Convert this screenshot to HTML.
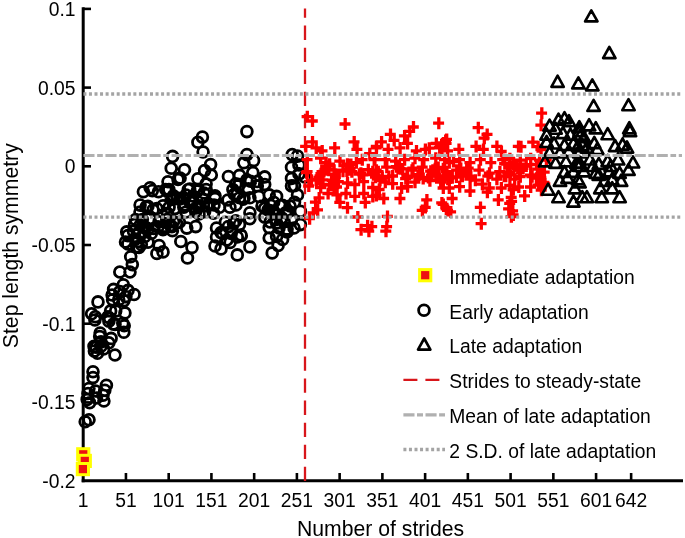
<!DOCTYPE html>
<html><head><meta charset="utf-8"><style>html,body{margin:0;padding:0;background:#fff;width:685px;height:538px;overflow:hidden}svg{display:block;will-change:transform}text{font-family:"Liberation Sans",sans-serif}</style></head>
<body><svg width="685" height="538" viewBox="0 0 685 538" font-family="Liberation Sans, sans-serif" font-size="19.3" fill="#000"><line x1="83.2" y1="7.3" x2="83.2" y2="482.2" stroke="#000" stroke-width="3"/>
<line x1="81.7" y1="480.7" x2="683" y2="480.7" stroke="#000" stroke-width="3"/>
<line x1="83" y1="8.90" x2="91" y2="8.90" stroke="#000" stroke-width="2.6"/>
<text x="75.5" y="15.80" text-anchor="end">0.1</text>
<line x1="83" y1="87.60" x2="91" y2="87.60" stroke="#000" stroke-width="2.6"/>
<text x="75.5" y="94.50" text-anchor="end">0.05</text>
<line x1="83" y1="166.30" x2="91" y2="166.30" stroke="#000" stroke-width="2.6"/>
<text x="75.5" y="173.20" text-anchor="end">0</text>
<line x1="83" y1="245.00" x2="91" y2="245.00" stroke="#000" stroke-width="2.6"/>
<text x="75.5" y="251.90" text-anchor="end">-0.05</text>
<line x1="83" y1="323.70" x2="91" y2="323.70" stroke="#000" stroke-width="2.6"/>
<text x="75.5" y="330.60" text-anchor="end">-0.1</text>
<line x1="83" y1="402.40" x2="91" y2="402.40" stroke="#000" stroke-width="2.6"/>
<text x="75.5" y="409.30" text-anchor="end">-0.15</text>
<text x="75.5" y="488.00" text-anchor="end">-0.2</text>
<text x="83.20" y="507" text-anchor="middle">1</text>
<line x1="125.94" y1="480" x2="125.94" y2="473" stroke="#000" stroke-width="2.6"/>
<text x="125.94" y="507" text-anchor="middle">51</text>
<line x1="168.68" y1="480" x2="168.68" y2="473" stroke="#000" stroke-width="2.6"/>
<text x="168.68" y="507" text-anchor="middle">101</text>
<line x1="211.42" y1="480" x2="211.42" y2="473" stroke="#000" stroke-width="2.6"/>
<text x="211.42" y="507" text-anchor="middle">151</text>
<line x1="254.16" y1="480" x2="254.16" y2="473" stroke="#000" stroke-width="2.6"/>
<text x="254.16" y="507" text-anchor="middle">201</text>
<line x1="296.90" y1="480" x2="296.90" y2="473" stroke="#000" stroke-width="2.6"/>
<text x="296.90" y="507" text-anchor="middle">251</text>
<line x1="339.64" y1="480" x2="339.64" y2="473" stroke="#000" stroke-width="2.6"/>
<text x="339.64" y="507" text-anchor="middle">301</text>
<line x1="382.38" y1="480" x2="382.38" y2="473" stroke="#000" stroke-width="2.6"/>
<text x="382.38" y="507" text-anchor="middle">351</text>
<line x1="425.12" y1="480" x2="425.12" y2="473" stroke="#000" stroke-width="2.6"/>
<text x="425.12" y="507" text-anchor="middle">401</text>
<line x1="467.86" y1="480" x2="467.86" y2="473" stroke="#000" stroke-width="2.6"/>
<text x="467.86" y="507" text-anchor="middle">451</text>
<line x1="510.60" y1="480" x2="510.60" y2="473" stroke="#000" stroke-width="2.6"/>
<text x="510.60" y="507" text-anchor="middle">501</text>
<line x1="553.34" y1="480" x2="553.34" y2="473" stroke="#000" stroke-width="2.6"/>
<text x="553.34" y="507" text-anchor="middle">551</text>
<line x1="596.08" y1="480" x2="596.08" y2="473" stroke="#000" stroke-width="2.6"/>
<text x="596.08" y="507" text-anchor="middle">601</text>
<line x1="631.13" y1="480" x2="631.13" y2="473" stroke="#000" stroke-width="2.6"/>
<text x="631.13" y="507" text-anchor="middle">642</text>
<text x="380.6" y="535.5" text-anchor="middle" font-size="21.2">Number of strides</text>
<text transform="translate(18.2,245.7) rotate(-90)" text-anchor="middle" font-size="21.2">Step length symmetry</text>
<rect x="77.65" y="448.70" width="11.2" height="11.2" fill="#ee1111" stroke="#ffff00" stroke-width="3"/>
<rect x="79.20" y="455.30" width="11.2" height="11.2" fill="#ee1111" stroke="#ffff00" stroke-width="3"/>
<rect x="77.30" y="463.50" width="11.2" height="11.2" fill="#ee1111" stroke="#ffff00" stroke-width="3"/>
<path d="M79.8,421.8a5.4,5.4 0 1,0 10.8,0a5.4,5.4 0 1,0 -10.8,0M83.6,419.8a5.4,5.4 0 1,0 10.8,0a5.4,5.4 0 1,0 -10.8,0M87.6,371.8a5.4,5.4 0 1,0 10.8,0a5.4,5.4 0 1,0 -10.8,0M87.6,377.6a5.4,5.4 0 1,0 10.8,0a5.4,5.4 0 1,0 -10.8,0M83.5,388.5a5.4,5.4 0 1,0 10.8,0a5.4,5.4 0 1,0 -10.8,0M82.6,393.5a5.4,5.4 0 1,0 10.8,0a5.4,5.4 0 1,0 -10.8,0M81.8,399.4a5.4,5.4 0 1,0 10.8,0a5.4,5.4 0 1,0 -10.8,0M84.3,402.7a5.4,5.4 0 1,0 10.8,0a5.4,5.4 0 1,0 -10.8,0M101.0,385.2a5.4,5.4 0 1,0 10.8,0a5.4,5.4 0 1,0 -10.8,0M99.4,390.2a5.4,5.4 0 1,0 10.8,0a5.4,5.4 0 1,0 -10.8,0M97.6,395.2a5.4,5.4 0 1,0 10.8,0a5.4,5.4 0 1,0 -10.8,0M98.5,401.0a5.4,5.4 0 1,0 10.8,0a5.4,5.4 0 1,0 -10.8,0M94.7,333.1a5.4,5.4 0 1,0 10.8,0a5.4,5.4 0 1,0 -10.8,0M94.3,336.6a5.4,5.4 0 1,0 10.8,0a5.4,5.4 0 1,0 -10.8,0M105.7,338.4a5.4,5.4 0 1,0 10.8,0a5.4,5.4 0 1,0 -10.8,0M103.5,342.8a5.4,5.4 0 1,0 10.8,0a5.4,5.4 0 1,0 -10.8,0M88.6,346.3a5.4,5.4 0 1,0 10.8,0a5.4,5.4 0 1,0 -10.8,0M89.0,351.1a5.4,5.4 0 1,0 10.8,0a5.4,5.4 0 1,0 -10.8,0M92.1,353.3a5.4,5.4 0 1,0 10.8,0a5.4,5.4 0 1,0 -10.8,0M95.6,346.3a5.4,5.4 0 1,0 10.8,0a5.4,5.4 0 1,0 -10.8,0M98.2,348.9a5.4,5.4 0 1,0 10.8,0a5.4,5.4 0 1,0 -10.8,0M95.6,341.9a5.4,5.4 0 1,0 10.8,0a5.4,5.4 0 1,0 -10.8,0M109.6,355.0a5.4,5.4 0 1,0 10.8,0a5.4,5.4 0 1,0 -10.8,0M118.4,332.3a5.4,5.4 0 1,0 10.8,0a5.4,5.4 0 1,0 -10.8,0M118.8,325.7a5.4,5.4 0 1,0 10.8,0a5.4,5.4 0 1,0 -10.8,0M109.6,324.4a5.4,5.4 0 1,0 10.8,0a5.4,5.4 0 1,0 -10.8,0M103.5,321.3a5.4,5.4 0 1,0 10.8,0a5.4,5.4 0 1,0 -10.8,0M89.5,320.0a5.4,5.4 0 1,0 10.8,0a5.4,5.4 0 1,0 -10.8,0M92.6,301.9a5.4,5.4 0 1,0 10.8,0a5.4,5.4 0 1,0 -10.8,0M86.2,313.8a5.4,5.4 0 1,0 10.8,0a5.4,5.4 0 1,0 -10.8,0M89.9,316.8a5.4,5.4 0 1,0 10.8,0a5.4,5.4 0 1,0 -10.8,0M114.4,272.0a5.4,5.4 0 1,0 10.8,0a5.4,5.4 0 1,0 -10.8,0M124.6,272.0a5.4,5.4 0 1,0 10.8,0a5.4,5.4 0 1,0 -10.8,0M117.9,284.8a5.4,5.4 0 1,0 10.8,0a5.4,5.4 0 1,0 -10.8,0M108.2,289.4a5.4,5.4 0 1,0 10.8,0a5.4,5.4 0 1,0 -10.8,0M106.7,295.0a5.4,5.4 0 1,0 10.8,0a5.4,5.4 0 1,0 -10.8,0M114.4,291.5a5.4,5.4 0 1,0 10.8,0a5.4,5.4 0 1,0 -10.8,0M122.6,290.4a5.4,5.4 0 1,0 10.8,0a5.4,5.4 0 1,0 -10.8,0M128.7,294.5a5.4,5.4 0 1,0 10.8,0a5.4,5.4 0 1,0 -10.8,0M120.5,296.6a5.4,5.4 0 1,0 10.8,0a5.4,5.4 0 1,0 -10.8,0M107.2,299.7a5.4,5.4 0 1,0 10.8,0a5.4,5.4 0 1,0 -10.8,0M113.3,299.7a5.4,5.4 0 1,0 10.8,0a5.4,5.4 0 1,0 -10.8,0M118.5,300.7a5.4,5.4 0 1,0 10.8,0a5.4,5.4 0 1,0 -10.8,0M105.2,310.9a5.4,5.4 0 1,0 10.8,0a5.4,5.4 0 1,0 -10.8,0M110.3,310.9a5.4,5.4 0 1,0 10.8,0a5.4,5.4 0 1,0 -10.8,0M119.5,312.9a5.4,5.4 0 1,0 10.8,0a5.4,5.4 0 1,0 -10.8,0M104.1,318.0a5.4,5.4 0 1,0 10.8,0a5.4,5.4 0 1,0 -10.8,0M117.4,323.2a5.4,5.4 0 1,0 10.8,0a5.4,5.4 0 1,0 -10.8,0M126.9,264.6a5.4,5.4 0 1,0 10.8,0a5.4,5.4 0 1,0 -10.8,0M125.3,256.8a5.4,5.4 0 1,0 10.8,0a5.4,5.4 0 1,0 -10.8,0M122.5,235.6a5.4,5.4 0 1,0 10.8,0a5.4,5.4 0 1,0 -10.8,0M122.5,244.0a5.4,5.4 0 1,0 10.8,0a5.4,5.4 0 1,0 -10.8,0M130.3,239.0a5.4,5.4 0 1,0 10.8,0a5.4,5.4 0 1,0 -10.8,0M131.4,246.8a5.4,5.4 0 1,0 10.8,0a5.4,5.4 0 1,0 -10.8,0M135.9,244.5a5.4,5.4 0 1,0 10.8,0a5.4,5.4 0 1,0 -10.8,0M129.2,224.5a5.4,5.4 0 1,0 10.8,0a5.4,5.4 0 1,0 -10.8,0M137.0,226.7a5.4,5.4 0 1,0 10.8,0a5.4,5.4 0 1,0 -10.8,0M142.6,242.3a5.4,5.4 0 1,0 10.8,0a5.4,5.4 0 1,0 -10.8,0M145.9,233.4a5.4,5.4 0 1,0 10.8,0a5.4,5.4 0 1,0 -10.8,0M152.6,226.7a5.4,5.4 0 1,0 10.8,0a5.4,5.4 0 1,0 -10.8,0M151.5,253.5a5.4,5.4 0 1,0 10.8,0a5.4,5.4 0 1,0 -10.8,0M153.7,245.6a5.4,5.4 0 1,0 10.8,0a5.4,5.4 0 1,0 -10.8,0M139.2,236.7a5.4,5.4 0 1,0 10.8,0a5.4,5.4 0 1,0 -10.8,0M133.6,233.4a5.4,5.4 0 1,0 10.8,0a5.4,5.4 0 1,0 -10.8,0M128.1,231.2a5.4,5.4 0 1,0 10.8,0a5.4,5.4 0 1,0 -10.8,0M138.0,191.7a5.4,5.4 0 1,0 10.8,0a5.4,5.4 0 1,0 -10.8,0M144.7,187.8a5.4,5.4 0 1,0 10.8,0a5.4,5.4 0 1,0 -10.8,0M146.9,190.6a5.4,5.4 0 1,0 10.8,0a5.4,5.4 0 1,0 -10.8,0M153.1,191.7a5.4,5.4 0 1,0 10.8,0a5.4,5.4 0 1,0 -10.8,0M160.3,189.5a5.4,5.4 0 1,0 10.8,0a5.4,5.4 0 1,0 -10.8,0M162.6,181.7a5.4,5.4 0 1,0 10.8,0a5.4,5.4 0 1,0 -10.8,0M172.6,179.5a5.4,5.4 0 1,0 10.8,0a5.4,5.4 0 1,0 -10.8,0M165.9,199.5a5.4,5.4 0 1,0 10.8,0a5.4,5.4 0 1,0 -10.8,0M134.7,205.1a5.4,5.4 0 1,0 10.8,0a5.4,5.4 0 1,0 -10.8,0M142.5,206.2a5.4,5.4 0 1,0 10.8,0a5.4,5.4 0 1,0 -10.8,0M151.4,208.5a5.4,5.4 0 1,0 10.8,0a5.4,5.4 0 1,0 -10.8,0M163.7,207.3a5.4,5.4 0 1,0 10.8,0a5.4,5.4 0 1,0 -10.8,0M169.2,208.5a5.4,5.4 0 1,0 10.8,0a5.4,5.4 0 1,0 -10.8,0M130.2,219.6a5.4,5.4 0 1,0 10.8,0a5.4,5.4 0 1,0 -10.8,0M136.9,219.6a5.4,5.4 0 1,0 10.8,0a5.4,5.4 0 1,0 -10.8,0M144.7,218.5a5.4,5.4 0 1,0 10.8,0a5.4,5.4 0 1,0 -10.8,0M153.6,221.8a5.4,5.4 0 1,0 10.8,0a5.4,5.4 0 1,0 -10.8,0M161.4,219.6a5.4,5.4 0 1,0 10.8,0a5.4,5.4 0 1,0 -10.8,0M168.1,221.8a5.4,5.4 0 1,0 10.8,0a5.4,5.4 0 1,0 -10.8,0M121.3,231.9a5.4,5.4 0 1,0 10.8,0a5.4,5.4 0 1,0 -10.8,0M140.2,227.4a5.4,5.4 0 1,0 10.8,0a5.4,5.4 0 1,0 -10.8,0M148.1,228.5a5.4,5.4 0 1,0 10.8,0a5.4,5.4 0 1,0 -10.8,0M159.2,228.5a5.4,5.4 0 1,0 10.8,0a5.4,5.4 0 1,0 -10.8,0M167.0,230.8a5.4,5.4 0 1,0 10.8,0a5.4,5.4 0 1,0 -10.8,0M134.7,225.2a5.4,5.4 0 1,0 10.8,0a5.4,5.4 0 1,0 -10.8,0M197.0,137.1a5.4,5.4 0 1,0 10.8,0a5.4,5.4 0 1,0 -10.8,0M192.5,142.3a5.4,5.4 0 1,0 10.8,0a5.4,5.4 0 1,0 -10.8,0M197.7,152.0a5.4,5.4 0 1,0 10.8,0a5.4,5.4 0 1,0 -10.8,0M167.2,156.4a5.4,5.4 0 1,0 10.8,0a5.4,5.4 0 1,0 -10.8,0M165.8,168.3a5.4,5.4 0 1,0 10.8,0a5.4,5.4 0 1,0 -10.8,0M179.1,169.8a5.4,5.4 0 1,0 10.8,0a5.4,5.4 0 1,0 -10.8,0M174.7,178.0a5.4,5.4 0 1,0 10.8,0a5.4,5.4 0 1,0 -10.8,0M205.2,164.6a5.4,5.4 0 1,0 10.8,0a5.4,5.4 0 1,0 -10.8,0M199.2,170.6a5.4,5.4 0 1,0 10.8,0a5.4,5.4 0 1,0 -10.8,0M205.9,175.0a5.4,5.4 0 1,0 10.8,0a5.4,5.4 0 1,0 -10.8,0M192.5,178.7a5.4,5.4 0 1,0 10.8,0a5.4,5.4 0 1,0 -10.8,0M200.7,183.9a5.4,5.4 0 1,0 10.8,0a5.4,5.4 0 1,0 -10.8,0M184.3,189.1a5.4,5.4 0 1,0 10.8,0a5.4,5.4 0 1,0 -10.8,0M223.0,176.5a5.4,5.4 0 1,0 10.8,0a5.4,5.4 0 1,0 -10.8,0M230.4,183.9a5.4,5.4 0 1,0 10.8,0a5.4,5.4 0 1,0 -10.8,0M162.0,191.4a5.4,5.4 0 1,0 10.8,0a5.4,5.4 0 1,0 -10.8,0M168.0,195.8a5.4,5.4 0 1,0 10.8,0a5.4,5.4 0 1,0 -10.8,0M193.3,189.9a5.4,5.4 0 1,0 10.8,0a5.4,5.4 0 1,0 -10.8,0M209.6,195.8a5.4,5.4 0 1,0 10.8,0a5.4,5.4 0 1,0 -10.8,0M228.9,194.3a5.4,5.4 0 1,0 10.8,0a5.4,5.4 0 1,0 -10.8,0M163.5,189.5a5.4,5.4 0 1,0 10.8,0a5.4,5.4 0 1,0 -10.8,0M168.0,199.1a5.4,5.4 0 1,0 10.8,0a5.4,5.4 0 1,0 -10.8,0M182.9,189.5a5.4,5.4 0 1,0 10.8,0a5.4,5.4 0 1,0 -10.8,0M191.8,191.0a5.4,5.4 0 1,0 10.8,0a5.4,5.4 0 1,0 -10.8,0M200.7,189.5a5.4,5.4 0 1,0 10.8,0a5.4,5.4 0 1,0 -10.8,0M209.6,198.4a5.4,5.4 0 1,0 10.8,0a5.4,5.4 0 1,0 -10.8,0M227.5,189.5a5.4,5.4 0 1,0 10.8,0a5.4,5.4 0 1,0 -10.8,0M231.9,193.9a5.4,5.4 0 1,0 10.8,0a5.4,5.4 0 1,0 -10.8,0M157.6,205.8a5.4,5.4 0 1,0 10.8,0a5.4,5.4 0 1,0 -10.8,0M178.4,207.3a5.4,5.4 0 1,0 10.8,0a5.4,5.4 0 1,0 -10.8,0M187.3,201.4a5.4,5.4 0 1,0 10.8,0a5.4,5.4 0 1,0 -10.8,0M194.7,205.8a5.4,5.4 0 1,0 10.8,0a5.4,5.4 0 1,0 -10.8,0M203.7,204.3a5.4,5.4 0 1,0 10.8,0a5.4,5.4 0 1,0 -10.8,0M214.1,207.3a5.4,5.4 0 1,0 10.8,0a5.4,5.4 0 1,0 -10.8,0M224.5,207.3a5.4,5.4 0 1,0 10.8,0a5.4,5.4 0 1,0 -10.8,0M169.5,208.8a5.4,5.4 0 1,0 10.8,0a5.4,5.4 0 1,0 -10.8,0M162.0,213.3a5.4,5.4 0 1,0 10.8,0a5.4,5.4 0 1,0 -10.8,0M190.3,211.8a5.4,5.4 0 1,0 10.8,0a5.4,5.4 0 1,0 -10.8,0M199.2,211.8a5.4,5.4 0 1,0 10.8,0a5.4,5.4 0 1,0 -10.8,0M208.1,213.3a5.4,5.4 0 1,0 10.8,0a5.4,5.4 0 1,0 -10.8,0M157.6,229.6a5.4,5.4 0 1,0 10.8,0a5.4,5.4 0 1,0 -10.8,0M166.5,226.6a5.4,5.4 0 1,0 10.8,0a5.4,5.4 0 1,0 -10.8,0M173.9,222.2a5.4,5.4 0 1,0 10.8,0a5.4,5.4 0 1,0 -10.8,0M181.4,228.1a5.4,5.4 0 1,0 10.8,0a5.4,5.4 0 1,0 -10.8,0M190.3,226.6a5.4,5.4 0 1,0 10.8,0a5.4,5.4 0 1,0 -10.8,0M175.4,241.5a5.4,5.4 0 1,0 10.8,0a5.4,5.4 0 1,0 -10.8,0M186.6,247.5a5.4,5.4 0 1,0 10.8,0a5.4,5.4 0 1,0 -10.8,0M182.1,257.9a5.4,5.4 0 1,0 10.8,0a5.4,5.4 0 1,0 -10.8,0M157.6,251.9a5.4,5.4 0 1,0 10.8,0a5.4,5.4 0 1,0 -10.8,0M211.1,228.1a5.4,5.4 0 1,0 10.8,0a5.4,5.4 0 1,0 -10.8,0M215.6,232.6a5.4,5.4 0 1,0 10.8,0a5.4,5.4 0 1,0 -10.8,0M209.6,246.0a5.4,5.4 0 1,0 10.8,0a5.4,5.4 0 1,0 -10.8,0M215.6,248.9a5.4,5.4 0 1,0 10.8,0a5.4,5.4 0 1,0 -10.8,0M221.5,240.0a5.4,5.4 0 1,0 10.8,0a5.4,5.4 0 1,0 -10.8,0M226.0,231.1a5.4,5.4 0 1,0 10.8,0a5.4,5.4 0 1,0 -10.8,0M231.9,237.0a5.4,5.4 0 1,0 10.8,0a5.4,5.4 0 1,0 -10.8,0M231.9,254.9a5.4,5.4 0 1,0 10.8,0a5.4,5.4 0 1,0 -10.8,0M220.0,222.2a5.4,5.4 0 1,0 10.8,0a5.4,5.4 0 1,0 -10.8,0M230.4,220.7a5.4,5.4 0 1,0 10.8,0a5.4,5.4 0 1,0 -10.8,0M211.1,237.0a5.4,5.4 0 1,0 10.8,0a5.4,5.4 0 1,0 -10.8,0M223.0,226.6a5.4,5.4 0 1,0 10.8,0a5.4,5.4 0 1,0 -10.8,0M241.5,131.6a5.4,5.4 0 1,0 10.8,0a5.4,5.4 0 1,0 -10.8,0M241.5,154.6a5.4,5.4 0 1,0 10.8,0a5.4,5.4 0 1,0 -10.8,0M238.5,162.8a5.4,5.4 0 1,0 10.8,0a5.4,5.4 0 1,0 -10.8,0M248.2,160.6a5.4,5.4 0 1,0 10.8,0a5.4,5.4 0 1,0 -10.8,0M247.4,172.5a5.4,5.4 0 1,0 10.8,0a5.4,5.4 0 1,0 -10.8,0M259.3,176.9a5.4,5.4 0 1,0 10.8,0a5.4,5.4 0 1,0 -10.8,0M234.1,175.4a5.4,5.4 0 1,0 10.8,0a5.4,5.4 0 1,0 -10.8,0M241.5,179.9a5.4,5.4 0 1,0 10.8,0a5.4,5.4 0 1,0 -10.8,0M251.9,181.4a5.4,5.4 0 1,0 10.8,0a5.4,5.4 0 1,0 -10.8,0M232.6,185.8a5.4,5.4 0 1,0 10.8,0a5.4,5.4 0 1,0 -10.8,0M286.8,154.6a5.4,5.4 0 1,0 10.8,0a5.4,5.4 0 1,0 -10.8,0M292.1,156.1a5.4,5.4 0 1,0 10.8,0a5.4,5.4 0 1,0 -10.8,0M286.1,167.2a5.4,5.4 0 1,0 10.8,0a5.4,5.4 0 1,0 -10.8,0M293.5,165.0a5.4,5.4 0 1,0 10.8,0a5.4,5.4 0 1,0 -10.8,0M286.1,178.4a5.4,5.4 0 1,0 10.8,0a5.4,5.4 0 1,0 -10.8,0M293.5,173.9a5.4,5.4 0 1,0 10.8,0a5.4,5.4 0 1,0 -10.8,0M299.5,176.9a5.4,5.4 0 1,0 10.8,0a5.4,5.4 0 1,0 -10.8,0M289.1,185.8a5.4,5.4 0 1,0 10.8,0a5.4,5.4 0 1,0 -10.8,0M234.1,184.5a5.4,5.4 0 1,0 10.8,0a5.4,5.4 0 1,0 -10.8,0M243.0,188.9a5.4,5.4 0 1,0 10.8,0a5.4,5.4 0 1,0 -10.8,0M251.9,185.9a5.4,5.4 0 1,0 10.8,0a5.4,5.4 0 1,0 -10.8,0M259.3,184.5a5.4,5.4 0 1,0 10.8,0a5.4,5.4 0 1,0 -10.8,0M234.1,197.8a5.4,5.4 0 1,0 10.8,0a5.4,5.4 0 1,0 -10.8,0M244.5,197.8a5.4,5.4 0 1,0 10.8,0a5.4,5.4 0 1,0 -10.8,0M253.4,196.4a5.4,5.4 0 1,0 10.8,0a5.4,5.4 0 1,0 -10.8,0M263.8,194.9a5.4,5.4 0 1,0 10.8,0a5.4,5.4 0 1,0 -10.8,0M271.2,196.4a5.4,5.4 0 1,0 10.8,0a5.4,5.4 0 1,0 -10.8,0M268.3,202.3a5.4,5.4 0 1,0 10.8,0a5.4,5.4 0 1,0 -10.8,0M259.3,208.3a5.4,5.4 0 1,0 10.8,0a5.4,5.4 0 1,0 -10.8,0M277.2,205.3a5.4,5.4 0 1,0 10.8,0a5.4,5.4 0 1,0 -10.8,0M286.1,185.9a5.4,5.4 0 1,0 10.8,0a5.4,5.4 0 1,0 -10.8,0M292.1,194.9a5.4,5.4 0 1,0 10.8,0a5.4,5.4 0 1,0 -10.8,0M289.1,202.3a5.4,5.4 0 1,0 10.8,0a5.4,5.4 0 1,0 -10.8,0M295.0,211.2a5.4,5.4 0 1,0 10.8,0a5.4,5.4 0 1,0 -10.8,0M244.5,212.7a5.4,5.4 0 1,0 10.8,0a5.4,5.4 0 1,0 -10.8,0M244.5,218.7a5.4,5.4 0 1,0 10.8,0a5.4,5.4 0 1,0 -10.8,0M234.1,224.6a5.4,5.4 0 1,0 10.8,0a5.4,5.4 0 1,0 -10.8,0M235.6,235.0a5.4,5.4 0 1,0 10.8,0a5.4,5.4 0 1,0 -10.8,0M244.5,246.9a5.4,5.4 0 1,0 10.8,0a5.4,5.4 0 1,0 -10.8,0M263.8,227.6a5.4,5.4 0 1,0 10.8,0a5.4,5.4 0 1,0 -10.8,0M271.2,223.1a5.4,5.4 0 1,0 10.8,0a5.4,5.4 0 1,0 -10.8,0M278.7,221.6a5.4,5.4 0 1,0 10.8,0a5.4,5.4 0 1,0 -10.8,0M286.1,220.1a5.4,5.4 0 1,0 10.8,0a5.4,5.4 0 1,0 -10.8,0M295.0,224.6a5.4,5.4 0 1,0 10.8,0a5.4,5.4 0 1,0 -10.8,0M263.8,238.0a5.4,5.4 0 1,0 10.8,0a5.4,5.4 0 1,0 -10.8,0M271.2,236.5a5.4,5.4 0 1,0 10.8,0a5.4,5.4 0 1,0 -10.8,0M277.2,239.5a5.4,5.4 0 1,0 10.8,0a5.4,5.4 0 1,0 -10.8,0M266.8,252.9a5.4,5.4 0 1,0 10.8,0a5.4,5.4 0 1,0 -10.8,0M272.7,245.4a5.4,5.4 0 1,0 10.8,0a5.4,5.4 0 1,0 -10.8,0M281.7,229.1a5.4,5.4 0 1,0 10.8,0a5.4,5.4 0 1,0 -10.8,0M259.3,217.2a5.4,5.4 0 1,0 10.8,0a5.4,5.4 0 1,0 -10.8,0M280.2,212.7a5.4,5.4 0 1,0 10.8,0a5.4,5.4 0 1,0 -10.8,0M178.6,205.0a5.4,5.4 0 1,0 10.8,0a5.4,5.4 0 1,0 -10.8,0M184.6,202.0a5.4,5.4 0 1,0 10.8,0a5.4,5.4 0 1,0 -10.8,0M190.6,208.0a5.4,5.4 0 1,0 10.8,0a5.4,5.4 0 1,0 -10.8,0M197.6,199.0a5.4,5.4 0 1,0 10.8,0a5.4,5.4 0 1,0 -10.8,0M201.6,206.0a5.4,5.4 0 1,0 10.8,0a5.4,5.4 0 1,0 -10.8,0M180.6,212.0a5.4,5.4 0 1,0 10.8,0a5.4,5.4 0 1,0 -10.8,0M193.6,214.0a5.4,5.4 0 1,0 10.8,0a5.4,5.4 0 1,0 -10.8,0M174.6,199.0a5.4,5.4 0 1,0 10.8,0a5.4,5.4 0 1,0 -10.8,0M187.6,196.0a5.4,5.4 0 1,0 10.8,0a5.4,5.4 0 1,0 -10.8,0M262.6,210.0a5.4,5.4 0 1,0 10.8,0a5.4,5.4 0 1,0 -10.8,0M269.6,214.0a5.4,5.4 0 1,0 10.8,0a5.4,5.4 0 1,0 -10.8,0M276.6,218.0a5.4,5.4 0 1,0 10.8,0a5.4,5.4 0 1,0 -10.8,0M282.6,212.0a5.4,5.4 0 1,0 10.8,0a5.4,5.4 0 1,0 -10.8,0M264.6,222.0a5.4,5.4 0 1,0 10.8,0a5.4,5.4 0 1,0 -10.8,0M273.6,228.0a5.4,5.4 0 1,0 10.8,0a5.4,5.4 0 1,0 -10.8,0M281.6,232.0a5.4,5.4 0 1,0 10.8,0a5.4,5.4 0 1,0 -10.8,0M288.6,228.0a5.4,5.4 0 1,0 10.8,0a5.4,5.4 0 1,0 -10.8,0M256.6,206.0a5.4,5.4 0 1,0 10.8,0a5.4,5.4 0 1,0 -10.8,0M284.6,206.0a5.4,5.4 0 1,0 10.8,0a5.4,5.4 0 1,0 -10.8,0M216.9,233.5a5.4,5.4 0 1,0 10.8,0a5.4,5.4 0 1,0 -10.8,0M225.8,233.5a5.4,5.4 0 1,0 10.8,0a5.4,5.4 0 1,0 -10.8,0M224.7,242.4a5.4,5.4 0 1,0 10.8,0a5.4,5.4 0 1,0 -10.8,0M235.9,235.7a5.4,5.4 0 1,0 10.8,0a5.4,5.4 0 1,0 -10.8,0M228.1,223.4a5.4,5.4 0 1,0 10.8,0a5.4,5.4 0 1,0 -10.8,0M120.1,242.0a5.4,5.4 0 1,0 10.8,0a5.4,5.4 0 1,0 -10.8,0M133.6,247.5a5.4,5.4 0 1,0 10.8,0a5.4,5.4 0 1,0 -10.8,0M180.6,195.0a5.4,5.4 0 1,0 10.8,0a5.4,5.4 0 1,0 -10.8,0M198.6,193.0a5.4,5.4 0 1,0 10.8,0a5.4,5.4 0 1,0 -10.8,0M208.6,205.0a5.4,5.4 0 1,0 10.8,0a5.4,5.4 0 1,0 -10.8,0M192.6,206.0a5.4,5.4 0 1,0 10.8,0a5.4,5.4 0 1,0 -10.8,0M140.6,207.0a5.4,5.4 0 1,0 10.8,0a5.4,5.4 0 1,0 -10.8,0M147.6,210.0a5.4,5.4 0 1,0 10.8,0a5.4,5.4 0 1,0 -10.8,0M134.6,212.0a5.4,5.4 0 1,0 10.8,0a5.4,5.4 0 1,0 -10.8,0M222.6,200.0a5.4,5.4 0 1,0 10.8,0a5.4,5.4 0 1,0 -10.8,0M230.6,205.0a5.4,5.4 0 1,0 10.8,0a5.4,5.4 0 1,0 -10.8,0M238.6,198.0a5.4,5.4 0 1,0 10.8,0a5.4,5.4 0 1,0 -10.8,0M90.1,391.0a5.4,5.4 0 1,0 10.8,0a5.4,5.4 0 1,0 -10.8,0M91.1,398.0a5.4,5.4 0 1,0 10.8,0a5.4,5.4 0 1,0 -10.8,0M90.6,347.2a5.4,5.4 0 1,0 10.8,0a5.4,5.4 0 1,0 -10.8,0M102.6,316.9a5.4,5.4 0 1,0 10.8,0a5.4,5.4 0 1,0 -10.8,0M108.0,324.1a5.4,5.4 0 1,0 10.8,0a5.4,5.4 0 1,0 -10.8,0M132.7,241.5a5.4,5.4 0 1,0 10.8,0a5.4,5.4 0 1,0 -10.8,0M142.1,229.9a5.4,5.4 0 1,0 10.8,0a5.4,5.4 0 1,0 -10.8,0M158.2,226.3a5.4,5.4 0 1,0 10.8,0a5.4,5.4 0 1,0 -10.8,0M165.0,225.6a5.4,5.4 0 1,0 10.8,0a5.4,5.4 0 1,0 -10.8,0M171.0,223.2a5.4,5.4 0 1,0 10.8,0a5.4,5.4 0 1,0 -10.8,0M171.9,198.0a5.4,5.4 0 1,0 10.8,0a5.4,5.4 0 1,0 -10.8,0M237.7,199.2a5.4,5.4 0 1,0 10.8,0a5.4,5.4 0 1,0 -10.8,0M245.1,181.3a5.4,5.4 0 1,0 10.8,0a5.4,5.4 0 1,0 -10.8,0M263.5,210.3a5.4,5.4 0 1,0 10.8,0a5.4,5.4 0 1,0 -10.8,0M267.4,211.1a5.4,5.4 0 1,0 10.8,0a5.4,5.4 0 1,0 -10.8,0M270.2,219.6a5.4,5.4 0 1,0 10.8,0a5.4,5.4 0 1,0 -10.8,0M274.6,205.6a5.4,5.4 0 1,0 10.8,0a5.4,5.4 0 1,0 -10.8,0M293.8,173.9a5.4,5.4 0 1,0 10.8,0a5.4,5.4 0 1,0 -10.8,0" fill="none" stroke="#000" stroke-width="2.8"/>
<line x1="305" y1="8.4" x2="305" y2="481.3" stroke="#d8161b" stroke-width="2.3" stroke-dasharray="14.3 7.76" stroke-dashoffset="4.86"/>
<path d="M301.6,116.6h11M307.3,110.7v12M306.8,121.0h11M312.5,115.1v12M339.5,124.0h11M345.2,118.1v12M306.8,141.8h11M312.5,135.9v12M300.1,146.3h11M305.8,140.4v12M310.5,147.8h11M316.2,141.9v12M316.5,150.8h11M322.2,144.9v12M329.1,147.8h11M334.8,141.9v12M348.5,141.8h11M354.2,135.9v12M351.4,149.3h11M357.1,143.4v12M370.8,146.3h11M376.5,140.4v12M364.1,153.7h11M369.8,147.8v12M301.6,159.7h11M307.3,153.8v12M315.0,158.2h11M320.7,152.3v12M323.9,164.1h11M329.6,158.2v12M334.3,161.2h11M340.0,155.3v12M341.8,164.1h11M347.5,158.2v12M350.7,162.7h11M356.4,156.8v12M356.6,159.7h11M362.3,153.8v12M368.5,159.7h11M374.2,153.8v12M301.6,171.6h11M307.3,165.7v12M316.5,171.6h11M322.2,165.7v12M328.4,170.1h11M334.1,164.2v12M337.3,170.1h11M343.0,164.2v12M346.2,171.6h11M351.9,165.7v12M355.2,173.1h11M360.9,167.2v12M367.1,171.6h11M372.8,165.7v12M313.5,177.5h11M319.2,171.6v12M329.9,177.5h11M335.6,171.6v12M300.9,172.6h11M306.6,166.7v12M303.1,186.0h11M308.8,180.1v12M310.5,180.1h11M316.2,174.2v12M316.5,174.1h11M322.2,168.2v12M322.4,169.7h11M328.1,163.8v12M329.9,174.1h11M335.6,168.2v12M337.3,171.1h11M343.0,165.2v12M344.7,168.2h11M350.4,162.3v12M353.7,174.1h11M359.4,168.2v12M362.6,169.7h11M368.3,163.8v12M370.0,177.1h11M375.7,171.2v12M315.0,187.5h11M320.7,181.6v12M323.9,184.5h11M329.6,178.6v12M332.8,181.6h11M338.5,175.7v12M341.8,183.0h11M347.5,177.1v12M349.2,184.5h11M354.9,178.6v12M358.1,181.6h11M363.8,175.7v12M367.1,187.5h11M372.8,181.6v12M313.5,197.9h11M319.2,192.0v12M322.4,193.5h11M328.1,187.6v12M331.4,194.9h11M337.1,189.0v12M340.3,193.5h11M346.0,187.6v12M349.2,196.4h11M354.9,190.5v12M358.1,193.5h11M363.8,187.6v12M367.1,196.4h11M372.8,190.5v12M312.0,209.8h11M317.7,203.9v12M307.6,212.8h11M313.3,206.9v12M303.9,218.7h11M309.6,212.8v12M341.8,207.6h11M347.5,201.7v12M334.3,202.4h11M340.0,196.5v12M359.6,202.4h11M365.3,196.5v12M352.1,217.0h11M357.8,211.1v12M328.4,187.5h11M334.1,181.6v12M433.1,123.2h11M438.8,117.3v12M407.8,127.0h11M413.5,121.1v12M404.1,131.4h11M409.8,125.5v12M384.8,134.4h11M390.5,128.5v12M398.9,135.9h11M404.6,130.0v12M375.9,141.8h11M381.6,135.9v12M388.5,140.3h11M394.2,134.4v12M401.9,143.3h11M407.6,137.4v12M370.7,147.8h11M376.4,141.9v12M382.5,149.3h11M388.2,143.4v12M394.4,147.8h11M400.1,141.9v12M410.8,150.8h11M416.5,144.9v12M419.7,149.3h11M425.4,143.4v12M442.0,150.8h11M447.7,144.9v12M369.2,159.7h11M374.9,153.8v12M379.6,159.7h11M385.3,153.8v12M390.0,161.2h11M395.7,155.3v12M398.9,159.7h11M404.6,153.8v12M409.3,158.2h11M415.0,152.3v12M418.2,159.7h11M423.9,153.8v12M430.1,158.2h11M435.8,152.3v12M439.0,159.7h11M444.7,153.8v12M370.7,170.1h11M376.4,164.2v12M381.1,167.1h11M386.8,161.2v12M394.4,168.6h11M400.1,162.7v12M406.3,170.1h11M412.0,164.2v12M416.7,167.1h11M422.4,161.2v12M427.2,170.1h11M432.9,164.2v12M437.6,168.6h11M443.3,162.7v12M376.6,177.5h11M382.3,171.6v12M387.0,176.0h11M392.7,170.1v12M401.9,177.5h11M407.6,171.6v12M412.3,176.0h11M418.0,170.1v12M422.7,177.5h11M428.4,171.6v12M433.1,176.0h11M438.8,170.1v12M367.7,174.7h11M373.4,168.8v12M379.6,182.1h11M385.3,176.2v12M387.0,183.6h11M392.7,177.7v12M395.9,188.0h11M401.6,182.1v12M401.9,176.1h11M407.6,170.2v12M409.3,182.1h11M415.0,176.2v12M413.8,174.7h11M419.5,168.8v12M424.2,180.6h11M429.9,174.7v12M430.1,174.7h11M435.8,168.8v12M437.6,188.0h11M443.3,182.1v12M442.0,179.1h11M447.7,173.2v12M370.7,195.5h11M376.4,189.6v12M378.1,198.5h11M383.8,192.6v12M394.4,198.5h11M400.1,192.6v12M421.2,199.9h11M426.9,194.0v12M419.7,207.4h11M425.4,201.5v12M416.7,210.3h11M422.4,204.4v12M437.6,204.4h11M443.3,198.5v12M442.0,210.3h11M447.7,204.4v12M381.8,216.3h11M387.5,210.4v12M381.1,226.7h11M386.8,220.8v12M380.3,231.2h11M386.0,225.3v12M366.2,226.7h11M371.9,220.8v12M373.6,189.5h11M379.3,183.6v12M401.9,186.6h11M407.6,180.7v12M472.6,127.7h11M478.3,121.8v12M481.5,134.4h11M487.2,128.5v12M478.6,138.1h11M484.3,132.2v12M440.6,143.3h11M446.3,137.4v12M436.2,147.8h11M441.9,141.9v12M453.3,149.3h11M459.0,143.4v12M470.4,146.3h11M476.1,140.4v12M477.8,149.3h11M483.5,143.4v12M491.2,146.3h11M496.9,140.4v12M495.7,151.5h11M501.4,145.6v12M512.8,146.3h11M518.5,140.4v12M443.6,162.7h11M449.3,156.8v12M454.0,159.7h11M459.7,153.8v12M464.4,162.7h11M470.1,156.8v12M474.8,159.7h11M480.5,153.8v12M485.3,162.7h11M491.0,156.8v12M497.2,159.7h11M502.9,153.8v12M507.6,162.7h11M513.3,156.8v12M440.6,171.6h11M446.3,165.7v12M451.1,170.1h11M456.8,164.2v12M461.5,173.1h11M467.2,167.2v12M473.4,170.1h11M479.1,164.2v12M483.8,173.1h11M489.5,167.2v12M494.2,171.6h11M499.9,165.7v12M504.6,173.1h11M510.3,167.2v12M512.0,168.6h11M517.7,162.7v12M437.7,179.1h11M443.4,173.2v12M446.6,177.6h11M452.3,171.7v12M455.5,176.1h11M461.2,170.2v12M464.4,179.1h11M470.1,173.2v12M443.6,188.0h11M449.3,182.1v12M454.0,186.6h11M459.7,180.7v12M464.4,191.0h11M470.1,185.1v12M482.3,176.1h11M488.0,170.2v12M491.2,179.1h11M496.9,173.2v12M500.1,176.1h11M505.8,170.2v12M509.0,179.1h11M514.7,173.2v12M483.8,188.0h11M489.5,182.1v12M495.7,188.0h11M501.4,182.1v12M507.6,189.5h11M513.3,183.6v12M446.6,198.5h11M452.3,192.6v12M436.2,202.9h11M441.9,197.0v12M440.6,208.9h11M446.3,203.0v12M445.1,211.8h11M450.8,205.9v12M474.8,207.4h11M480.5,201.5v12M492.7,199.9h11M498.4,194.0v12M506.1,201.4h11M511.8,195.5v12M503.1,208.9h11M508.8,203.0v12M507.6,214.8h11M513.3,208.9v12M475.6,223.7h11M481.3,217.8v12M536.1,113.2h11M541.8,107.3v12M535.4,125.1h11M541.1,119.2v12M515.3,146.7h11M521.0,140.8v12M527.2,142.2h11M532.9,136.3v12M532.4,146.7h11M538.1,140.8v12M535.4,149.7h11M541.1,143.8v12M504.2,158.6h11M509.9,152.7v12M514.6,160.1h11M520.3,154.2v12M525.0,158.6h11M530.7,152.7v12M533.9,160.1h11M539.6,154.2v12M508.6,166.0h11M514.3,160.1v12M520.5,166.0h11M526.2,160.1v12M530.9,164.5h11M536.6,158.6v12M504.2,164.7h11M509.9,158.8v12M514.6,166.1h11M520.3,160.2v12M525.0,164.7h11M530.7,158.8v12M532.4,169.1h11M538.1,163.2v12M504.2,175.1h11M509.9,169.2v12M514.6,176.6h11M520.3,170.7v12M525.0,175.1h11M530.7,169.2v12M535.4,178.0h11M541.1,172.1v12M504.2,185.5h11M509.9,179.6v12M513.1,187.0h11M518.8,181.1v12M525.0,187.0h11M530.7,181.1v12M538.4,182.5h11M544.1,176.6v12M519.0,195.9h11M524.7,190.0v12M505.7,197.4h11M511.4,191.5v12M504.2,203.3h11M509.9,197.4v12M507.1,210.8h11M512.8,204.9v12M505.7,216.7h11M511.4,210.8v12M355.4,229.7h11M361.1,223.8v12M361.9,225.6h11M367.6,219.7v12M363.2,231.2h11M368.9,225.3v12M309.9,202.2h11M315.6,196.3v12M469.7,180.2h11M475.4,174.3v12M476.7,184.2h11M482.4,178.3v12M462.7,168.2h11M468.4,162.3v12M481.7,192.2h11M487.4,186.3v12M456.7,176.2h11M462.4,170.3v12M440.0,140.5h11M445.7,134.6v12M438.0,142.8h11M443.7,136.9v12M436.0,145.2h11M441.7,139.3v12M434.0,147.6h11M439.7,141.7v12M423.6,148.2h11M429.3,142.3v12M532.7,185.2h11M538.4,179.3v12M535.7,190.2h11M541.4,184.3v12M530.7,178.2h11M536.4,172.3v12M538.7,172.2h11M544.4,166.3v12M540.7,160.2h11M546.4,154.3v12M305.8,180.2h11M311.5,174.3v12M313.0,179.4h11M318.7,173.5v12M315.4,173.6h11M321.1,167.7v12M317.3,179.8h11M323.0,173.9v12M318.2,171.4h11M323.9,165.5v12M320.1,166.1h11M325.8,160.2v12M320.4,162.6h11M326.1,156.7v12M321.8,166.2h11M327.5,160.3v12M323.1,170.1h11M328.8,164.2v12M325.7,185.2h11M331.4,179.3v12M326.8,180.4h11M332.5,174.5v12M331.0,187.0h11M336.7,181.1v12M341.2,170.9h11M346.9,165.0v12M343.1,165.0h11M348.8,159.1v12M343.9,169.7h11M349.6,163.8v12M345.2,164.4h11M350.9,158.5v12M357.3,174.8h11M363.0,168.9v12M371.7,175.8h11M377.4,169.9v12M372.6,171.7h11M378.3,165.8v12M374.3,180.4h11M380.0,174.5v12M383.2,176.4h11M388.9,170.5v12M390.9,166.7h11M396.6,160.8v12M392.3,168.2h11M398.0,162.3v12M393.4,168.2h11M399.1,162.3v12M397.0,168.8h11M402.7,162.9v12M400.1,178.7h11M405.8,172.8v12M401.3,176.1h11M407.0,170.2v12M407.3,168.1h11M413.0,162.2v12M417.5,178.3h11M423.2,172.4v12M425.1,171.2h11M430.8,165.3v12M426.0,175.5h11M431.7,169.6v12M429.5,168.6h11M435.2,162.7v12M430.6,143.5h11M436.3,137.6v12M432.5,167.5h11M438.2,161.6v12M435.0,182.1h11M440.7,176.2v12M439.4,143.1h11M445.1,137.2v12M441.0,139.4h11M446.7,133.5v12M444.5,177.8h11M450.2,171.9v12M447.8,161.5h11M453.5,155.6v12M450.7,177.0h11M456.4,171.1v12M452.6,170.2h11M458.3,164.3v12M455.1,168.5h11M460.8,162.6v12M461.0,169.8h11M466.7,163.9v12M465.1,176.1h11M470.8,170.2v12M498.5,176.2h11M504.2,170.3v12M499.1,163.7h11M504.8,157.8v12M501.9,172.2h11M507.6,166.3v12M514.0,169.7h11M519.7,163.8v12M517.4,168.3h11M523.1,162.4v12M526.4,176.7h11M532.1,170.8v12M531.7,174.9h11M537.4,169.0v12M539.3,183.8h11M545.0,177.9v12" stroke="#ff0000" stroke-width="3.3" fill="none"/><path d="M564.5,112.2L570.7,123.3L558.3,123.3ZM558.5,113.6L564.7,124.7L552.3,124.7ZM569.0,115.1L575.2,126.2L562.8,126.2ZM549.6,119.6L555.8,130.7L543.4,130.7ZM555.6,122.6L561.8,133.7L549.4,133.7ZM579.3,121.1L585.5,132.2L573.1,132.2ZM546.6,128.5L552.8,139.6L540.4,139.6ZM563.0,127.0L569.2,138.1L556.8,138.1ZM570.4,128.5L576.6,139.6L564.2,139.6ZM580.8,128.5L587.0,139.6L574.6,139.6ZM546.6,135.9L552.8,147.0L540.4,147.0ZM554.1,137.4L560.3,148.5L547.9,148.5ZM564.5,138.9L570.7,150.0L558.3,150.0ZM573.4,137.4L579.6,148.5L567.2,148.5ZM582.3,138.9L588.5,150.0L576.1,150.0ZM549.6,146.4L555.8,157.5L543.4,157.5ZM560.0,146.4L566.2,157.5L553.8,157.5ZM568.9,144.9L575.1,156.0L562.7,156.0ZM579.3,146.4L585.5,157.5L573.1,157.5ZM545.1,155.3L551.3,166.4L538.9,166.4ZM555.6,156.8L561.8,167.9L549.4,167.9ZM566.0,155.3L572.2,166.4L559.8,166.4ZM576.4,156.8L582.6,167.9L570.2,167.9ZM579.3,159.9L585.5,171.0L573.1,171.0ZM548.1,183.6L554.3,194.7L541.9,194.7ZM560.0,174.7L566.2,185.8L553.8,185.8ZM567.5,171.7L573.7,182.8L561.3,182.8ZM577.9,173.2L584.1,184.3L571.7,184.3ZM558.5,191.1L564.7,202.2L552.3,202.2ZM574.9,182.2L581.1,193.3L568.7,193.3ZM573.4,195.5L579.6,206.6L567.2,206.6ZM582.3,191.1L588.5,202.2L576.1,202.2ZM564.5,165.8L570.7,176.9L558.3,176.9ZM573.4,165.8L579.6,176.9L567.2,176.9ZM593.6,99.8L599.8,110.9L587.4,110.9ZM628.5,99.1L634.7,110.2L622.3,110.2ZM589.1,119.2L595.3,130.3L582.9,130.3ZM595.8,122.2L602.0,133.3L589.6,133.3ZM579.5,125.1L585.7,136.2L573.3,136.2ZM607.7,128.1L613.9,139.2L601.5,139.2ZM629.3,122.2L635.5,133.3L623.1,133.3ZM630.0,125.1L636.2,136.2L623.8,136.2ZM583.9,131.1L590.1,142.2L577.7,142.2ZM594.3,137.0L600.5,148.1L588.1,148.1ZM615.1,140.0L621.3,151.1L608.9,151.1ZM622.6,138.5L628.8,149.6L616.4,149.6ZM627.0,141.5L633.2,152.6L620.8,152.6ZM578.0,140.0L584.2,151.1L571.8,151.1ZM586.9,141.5L593.1,152.6L580.7,152.6ZM597.3,143.0L603.5,154.1L591.1,154.1ZM579.5,156.4L585.7,167.5L573.3,167.5ZM589.9,153.4L596.1,164.5L583.7,164.5ZM598.8,157.8L605.0,168.9L592.6,168.9ZM607.7,154.9L613.9,166.0L601.5,166.0ZM618.1,153.4L624.3,164.5L611.9,164.5ZM633.0,156.4L639.2,167.5L626.8,167.5ZM583.9,165.3L590.1,176.4L577.7,176.4ZM595.8,166.8L602.0,177.9L589.6,177.9ZM609.2,165.3L615.4,176.4L603.0,176.4ZM619.6,166.8L625.8,177.9L613.4,177.9ZM628.5,163.8L634.7,174.9L622.3,174.9ZM591.3,10.3L597.5,21.4L585.1,21.4ZM609.3,47.0L615.5,58.1L603.1,58.1ZM557.6,75.7L563.8,86.8L551.4,86.8ZM578.4,77.3L584.6,88.4L572.2,88.4ZM592.3,79.3L598.5,90.4L586.1,90.4ZM579.5,176.2L585.7,187.3L573.3,187.3ZM586.9,191.1L593.1,202.2L580.7,202.2ZM601.8,191.1L608.0,202.2L595.6,202.2ZM619.6,191.1L625.8,202.2L613.4,202.2ZM598.8,168.8L605.0,179.9L592.6,179.9ZM604.7,174.7L610.9,185.8L598.5,185.8ZM612.2,173.2L618.4,184.3L606.0,184.3ZM621.1,174.7L627.3,185.8L614.9,185.8ZM610.7,159.9L616.9,171.0L604.5,171.0ZM600.3,182.2L606.5,193.3L594.1,193.3ZM612.2,182.2L618.4,193.3L606.0,193.3ZM592.8,159.9L599.0,171.0L586.6,171.0Z" stroke="#000" stroke-width="2.65" stroke-linejoin="round" fill="none"/>
<line x1="83.4" y1="94.0" x2="682.0" y2="94.0" stroke="#a4a4a4" stroke-width="3.3" stroke-dasharray="3 2.55"/>
<line x1="83.4" y1="217.1" x2="682.0" y2="217.1" stroke="#a4a4a4" stroke-width="3.3" stroke-dasharray="3 2.55"/>
<line x1="83.4" y1="155.5" x2="682.0" y2="155.5" stroke="#b0b0b0" stroke-width="3.2" stroke-dasharray="11.1 2.65 5.65 2.65"/>
<text x="449.3" y="283.60">Immediate adaptation</text>
<text x="449.3" y="318.60">Early adaptation</text>
<text x="449.3" y="353.00">Late adaptation</text>
<text x="449.3" y="388.30">Strides to steady-state</text>
<text x="449.3" y="423.20">Mean of late adaptation</text>
<text x="449.3" y="457.90">2 S.D. of late adaptation</text>
<rect x="419.6" y="269.60" width="11.2" height="11.2" fill="#ee1111" stroke="#ffff00" stroke-width="3"/>
<circle cx="424" cy="310.20" r="5.4" fill="none" stroke="#000" stroke-width="2.8"/>
<path d="M424.2,338.50 L430.4,349.60 L418.0,349.60 Z" fill="none" stroke="#000" stroke-width="2.65" stroke-linejoin="round"/>
<line x1="403.4" y1="379.9" x2="445" y2="379.9" stroke="#d8161b" stroke-width="2.3" stroke-dasharray="14 8"/>
<line x1="403.4" y1="414.8" x2="445" y2="414.8" stroke="#b0b0b0" stroke-width="3.2" stroke-dasharray="11.1 2.5 6 2.5"/>
<line x1="403.4" y1="449.5" x2="445" y2="449.5" stroke="#a4a4a4" stroke-width="3.3" stroke-dasharray="3 2.55"/></svg></body></html>
